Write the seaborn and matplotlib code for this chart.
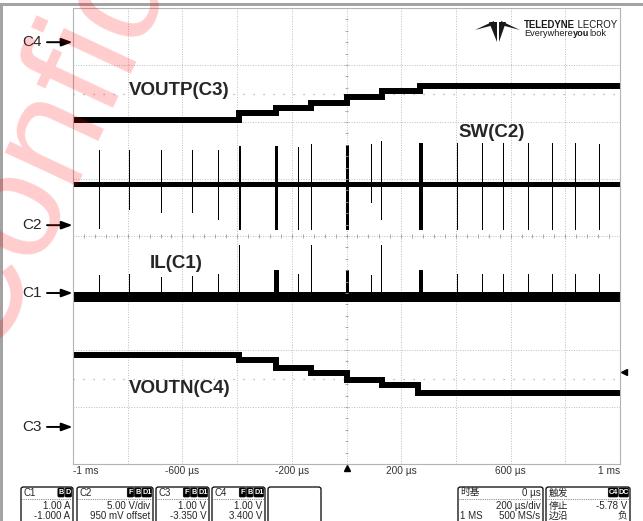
import numpy as np
import pandas as pd
import matplotlib
matplotlib.use("Agg")
import matplotlib.pyplot as plt
import seaborn as sns
from matplotlib.patches import Rectangle, FancyBboxPatch, Polygon
from matplotlib.lines import Line2D

# ---------------- acquisition settings ----------------
time_per_div = 200          # µs/div
time_delay = 0              # µs
memory_depth = "1 MS"
sample_rate = "500 MS/s"

ch_scale = {"C1": 1.00, "C2": 5.00, "C3": 1.00, "C4": 1.00}
ch_offset = {"C1": -1.000, "C2": 0.950, "C3": -3.350, "C4": 3.400}
trigger_level = -5.78       # V, on C4, falling edge

# ---------------- VOUTP (C3): soft-start staircase ----------------
voutp_t = [-1000, -393, -256, -128, 2, 128, 268, 1000]
voutp_v = [5.39, 5.50, 5.60, 5.69, 5.79, 5.90, 5.98, 5.98]

# ---------------- VOUTN (C4): negative staircase ----------------
voutn_t = [-1000, -393, -258, -128, 0, 128, 262, 1000]
voutn_v = [-5.49, -5.58, -5.72, -5.81, -5.92, -6.01, -6.15, -6.15]

# ---------------- SW (C2): switching bursts ----------------
sw_level = 3.61
sw_t = [-903, -793, -676, -563, -468, -391, -256, -176, -128, 4,
        91, 128, 274, 406, 497, 574, 665, 753, 837, 925]
sw_hi = [6.59, 6.59, 6.59, 6.59, 6.59, 6.94, 6.94, 6.85, 7.12, 7.03,
         7.12, 7.38, 7.21, 7.21, 7.21, 7.21, 7.21, 7.21, 7.21, 7.12]
sw_lo = [-0.34, 1.33, 1.07, 1.07, 0.45, -0.42, -0.42, -0.42, -0.42, -0.42,
         1.94, 0.45, -0.42, -0.42, -0.42, -0.42, -0.42, -0.42, -0.42, -0.42]
sw_w = [0, 0, 0, 0, 0, 7, 11, 0, 7, 11,
        0, 7, 15, 0, 0, 0, 0, 0, 0, 0]

# ---------------- IL (C1): inductor current ----------------
il_lo, il_hi = -0.16, 0.02
il_t = sw_t
il_peak = [0.32, 0.33, 0.28, 0.30, 0.33, 0.84, 0.40, 0.33, 0.84, 0.40,
           0.32, 0.84, 0.40, 0.33, 0.33, 0.33, 0.33, 0.33, 0.33, 0.33]
il_w = [0, 0, 0, 0, 0, 3, 15, 0, 3, 11,
        0, 3, 15, 0, 0, 0, 0, 0, 0, 0]


def to_div(ch, v):
    """Screen position (divisions from centre) of a value on channel ch."""
    return (np.asarray(v, dtype=float) + ch_offset[ch]) / ch_scale[ch]


sns.set_style("white")
plt.rcParams["font.family"] = ["Liberation Sans", "Noto Sans CJK SC", "DejaVu Sans"]

W, H = 643, 521
fig = plt.figure(figsize=(W / 100, H / 100), dpi=100)
fig.patch.set_facecolor("white")


def fx(x):
    return x / W


def fy(y):
    return 1 - y / H


ax = fig.add_axes([fx(73), fy(464), 547 / W, 456 / H])
ax.patch.set_visible(False)
xmin, xmax = -5 * time_per_div, 5 * time_per_div
ax.set_xlim(xmin, xmax)
ax.set_ylim(-4, 4)

# graticule
ax.set_xticks(np.arange(xmin, xmax + 1, time_per_div))
ax.set_yticks(np.arange(-4, 5))
ax.tick_params(length=0, labelbottom=False, labelleft=False)
ax.grid(True, color="#bdbdbd", linestyle=(0, (1, 1.6)), linewidth=0.7)
for sp in ax.spines.values():
    sp.set_color("#b3b3b3")
    sp.set_linewidth(0.8)
ax.vlines(np.arange(xmin, xmax + 1, time_per_div / 5), -0.03, 0.03,
          color="#9c9c9c", lw=0.6)
ax.hlines(np.arange(-4, 4.01, 0.2), -5, 5, color="#9c9c9c", lw=0.6)
ax.hlines([2.5, -2.5], xmin, xmax, color="#a8a8a8", lw=0.9,
          linestyle=(0, (1, 7)))

# step traces
df_p = pd.DataFrame({"t": voutp_t, "div": to_div("C3", voutp_v)})
df_n = pd.DataFrame({"t": voutn_t, "div": to_div("C4", voutn_v)})
df_sw = pd.DataFrame({"t": [xmin, xmax], "div": to_div("C2", [sw_level, sw_level])})
for df, lw in [(df_p, 4.3), (df_n, 4.3), (df_sw, 3.6)]:
    sns.lineplot(data=df, x="t", y="div", ax=ax, color="black", lw=lw,
                 drawstyle="steps-post", estimator=None, sort=False,
                 solid_capstyle="butt", solid_joinstyle="miter")
ax.set_xlabel("")
ax.set_ylabel("")

# SW spikes
sw_lo_d = to_div("C2", sw_lo)
sw_hi_d = to_div("C2", sw_hi)
ax.bar(sw_t, sw_hi_d - sw_lo_d, bottom=sw_lo_d,
       width=np.maximum(sw_w, 3.7), color="black", lw=0)

# IL band and spikes
lo_d, hi_d = to_div("C1", [il_lo, il_hi])
ax.fill_between([xmin, xmax], lo_d, hi_d, color="black", lw=0)
il_pk_d = to_div("C1", il_peak)
ax.bar(il_t, il_pk_d - hi_d, bottom=hi_d,
       width=np.maximum(il_w, 3.7), color="black", lw=0)

# trace names
name_font = dict(fontsize=13.5, fontweight="bold", ha="left", va="center")
ax.text(-797, 2.56, "VOUTP(C3)", **name_font)
ax.text(409, 1.81, "SW(C2)", **name_font)
ax.text(-720, -0.49, "IL(C1)", **name_font)
ax.text(-797, -2.67, "VOUTN(C4)", **name_font)

# channel ground markers
for ch in ["C4", "C2", "C1", "C3"]:
    yd = ch_offset[ch] / ch_scale[ch]
    ax.annotate(ch, xy=(22, yd), xycoords=("figure pixels", "data"),
                ha="left", va="center", fontsize=11, annotation_clip=False)
    ax.annotate("", xy=(72.5, yd), xycoords=("figure pixels", "data"),
                xytext=(47, yd), textcoords=("figure pixels", "data"),
                arrowprops=dict(arrowstyle="-|>,head_length=0.65,head_width=0.24",
                                lw=1.4, color="black", shrinkA=0, shrinkB=0),
                annotation_clip=False)

# trigger level and trigger position markers
tl = (trigger_level + ch_offset["C4"]) / ch_scale["C4"]
ax.plot([1.007], [tl], marker="<", ms=5, color="black",
        transform=ax.get_yaxis_transform(), clip_on=False)
ax.plot([time_delay], [-0.009], marker="^", ms=5, color="black",
        transform=ax.get_xaxis_transform(), clip_on=False)


# time axis labels
def fmt_time(t):
    if abs(t) >= 1000:
        return f"{t / 1000:.0f} ms"
    return f"{t:.0f} µs"


for t in np.arange(xmin, xmax + 1, 2 * time_per_div):
    ha = "left" if t == xmin else ("right" if t == xmax else "center")
    ax.text(t, -0.0145, fmt_time(t), transform=ax.get_xaxis_transform(),
            ha=ha, va="center", fontsize=7.3, color="#333333")

# ---------------- info boxes ----------------
small = 7


def badge(x_right, y, label):
    w = 3 + 3.3 * len(label)
    fig.patches.append(FancyBboxPatch((fx(x_right - w), fy(y + 4.5)), w / W, 9 / H,
                                      boxstyle="round,pad=0,rounding_size=0.002",
                                      transform=fig.transFigure, fc="black",
                                      ec="black", lw=0.5))
    fig.text(fx(x_right - w / 2), fy(y), label, ha="center", va="center",
             fontsize=5.2, color="white", fontweight="bold")
    return x_right - w - 1


def info_box(x0, x1, title, badges, rows, right_head=None):
    fig.patches.append(FancyBboxPatch((fx(x0), fy(540)), (x1 - x0) / W, (540 - 487) / H,
                                      boxstyle="round,pad=0,rounding_size=0.004",
                                      transform=fig.transFigure, fc="white",
                                      ec="black", lw=0.9))
    if title:
        fig.text(fx(x0 + 2.5), fy(492.5), title, ha="left", va="center",
                 fontsize=small)
    xr = x1 - 1.5
    for b in reversed(badges):
        xr = badge(xr, 492.5, b)
    if right_head:
        fig.text(fx(x1 - 2.5), fy(492.5), right_head, ha="right", va="center",
                 fontsize=small)
    if title:
        fig.lines.append(Line2D([fx(x0 + 1), fx(x1 - 1)], [fy(499), fy(499)],
                                transform=fig.transFigure, color="#666666",
                                lw=0.6, linestyle=(0, (1, 1.2))))
    for i, (left, right) in enumerate(rows):
        y = 506 + 10 * i
        if left:
            fig.text(fx(x0 + 2.5), fy(y), left, ha="left", va="center", fontsize=small)
        if right:
            fig.text(fx(x1 - 2.5), fy(y), right, ha="right", va="center", fontsize=small)


info_box(21, 73, "C1", ["B", "D"],
         [("", f"{ch_scale['C1']:.2f} A"), ("", f"{ch_offset['C1']:.3f} A")])
info_box(77, 153, "C2", ["F", "B", "D1"],
         [("", f"{ch_scale['C2']:.2f} V/div"),
          ("", f"{ch_offset['C2'] * 1000:.0f} mV offset")])
info_box(156, 209, "C3", ["F", "B", "D1"],
         [("", f"{ch_scale['C3']:.2f} V"), ("", f"{ch_offset['C3']:.3f} V")])
info_box(212, 265, "C4", ["F", "B", "D1"],
         [("", f"{ch_scale['C4']:.2f} V"), ("", f"{ch_offset['C4']:.3f} V")])
info_box(268, 321, "", [], [])
info_box(458, 543, "时基", [],
         [("", f"{time_per_div} µs/div"), (memory_depth, sample_rate)],
         right_head=f"{time_delay} µs")
info_box(546, 630, "触发", ["C4", "DC"],
         [("停止", f"{trigger_level:.2f} V"), ("边沿", "负")])

# ---------------- frame of the screen ----------------
fig.patches.append(Rectangle((0, fy(5.5)), 1, 2.5 / H, transform=fig.transFigure,
                             fc="#a3a3a3", ec="none"))
fig.patches.append(Rectangle((0, 0), 2.8 / W, fy(3), transform=fig.transFigure,
                             fc="#a3a3a3", ec="none"))

# ---------------- brand mark ----------------
logo = [
    [(475, 30), (494, 21), (494, 25)],
    [(520, 30), (501, 21), (501, 25)],
    [(489, 22), (496.5, 22), (496.5, 42)],
    [(499, 22), (506, 22), (499, 42)],
]
for pts in logo:
    fig.patches.append(Polygon([(fx(x), fy(y)) for x, y in pts], closed=True,
                               transform=fig.transFigure, fc="#1a1a1a", ec="none"))

renderer = fig.canvas.get_renderer()


def rich_text(x, y, parts, size):
    for s, weight in parts:
        t = fig.text(fx(x), fy(y), s, fontsize=size, fontweight=weight,
                     ha="left", va="center", color="#1a1a1a")
        x += t.get_window_extent(renderer).width


rich_text(524, 24.5, [("TELEDYNE", "bold"), (" LECROY", "normal")], 6.9)
rich_text(524, 33.5, [("Everywhere", "normal"), ("you", "bold"), ("look", "normal")], 6.6)

# ---------------- watermark ----------------
fig.text(fx(-12), fy(362), "Confidential", rotation=65, rotation_mode="anchor",
         ha="left", va="baseline", fontsize=108, color="red", alpha=0.2,
         zorder=10)

fig.savefig("out.png", dpi=100, facecolor="white")
